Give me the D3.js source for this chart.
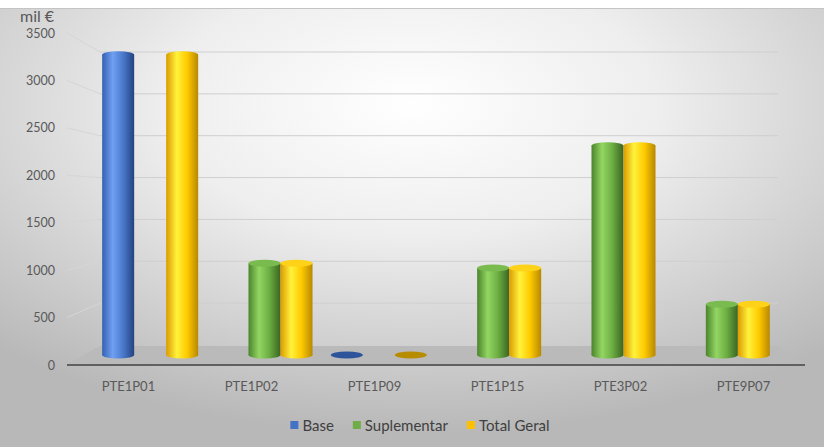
<!DOCTYPE html>
<html>
<head>
<meta charset="utf-8">
<script src="https://cdn.jsdelivr.net/npm/d3@7"></script>
<style>
  body { margin: 0; background: #fff; }
  text { font-family: Lato, "Open Sans", sans-serif; fill: #595959; }
</style>
</head>
<body>
<div id="chart"></div>
<script>
// data (mil €)
const categories = ["PTE1P01", "PTE1P02", "PTE1P09", "PTE1P15", "PTE3P02", "PTE9P07"];
const seriesNames = ["Base", "Suplementar", "Total Geral"];
const baseValues = [3400, null, 0, null, null, null];
const suplementarValues = [null, 1040, null, 985, 2370, 575];
const totalValues = [3400, 1040, 0, 985, 2370, 575];
const yTicks = [0, 500, 1000, 1500, 2000, 2500, 3000, 3500];

const width = 824, height = 447;
const svg = d3.select("#chart").append("svg").attr("width", width).attr("height", height);
const defs = svg.append("defs");

// background
const bg = defs.append("radialGradient").attr("id", "bg")
  .attr("cx", "50%").attr("cy", "22%").attr("r", "75%");
bg.append("stop").attr("offset", "0").attr("stop-color", "#ffffff");
bg.append("stop").attr("offset", "0.4").attr("stop-color", "#eeeeee");
bg.append("stop").attr("offset", "1").attr("stop-color", "#b8b8b8");
svg.append("rect").attr("x", 0).attr("y", 8).attr("width", width).attr("height", height - 8)
  .attr("fill", "url(#bg)");
svg.append("line").attr("x1", 0).attr("x2", width).attr("y1", 8.5).attr("y2", 8.5)
  .attr("stroke", "#c4c4c4");

// 3d-ish geometry: front edge, bar depth, back wall
const xFront = d3.scaleBand().domain(categories).range([67, 805]);
const xBack = d3.scaleBand().domain(categories).range([100, 778]);
const xBar = d3.scaleBand().domain(categories).range([93, 779]);
const slot = d3.scaleBand().domain(seriesNames).range([-48, 48]);
const yFront = d3.scaleLinear().domain([0, 3500]).range([365, 33]);
const yBack = d3.scaleLinear().domain([0, 3500]).range([345, 52]);
const yBar = d3.scaleLinear().domain([0, 3500]).range([355, 46]);

const backL = xBack.range()[0], backR = xBack.range()[1];
const frontL = xFront.range()[0], frontR = xFront.range()[1];

// gridlines on side wall + back wall
yTicks.forEach(t => {
  if (t === 0) return;
  svg.append("line")
    .attr("x1", frontL).attr("y1", yFront(t))
    .attr("x2", backL).attr("y2", yBack(t))
    .attr("stroke", "#d6d6d6");
  svg.append("line")
    .attr("x1", backL).attr("x2", backR)
    .attr("y1", yBack(t)).attr("y2", yBack(t))
    .attr("stroke", "#cfcfcf");
});

// floor
svg.append("path")
  .attr("d", d3.line()([[frontL, yFront(0) - 1], [backL, yBack(0) + 1], [backR, yBack(0) + 1], [frontR, yFront(0) - 1]]) + "Z")
  .attr("fill", "#bababa");
svg.append("line")
  .attr("x1", frontL).attr("x2", frontR)
  .attr("y1", yFront(0)).attr("y2", yFront(0))
  .attr("stroke", "#606060").attr("stroke-width", 2);

// y labels
svg.append("g").selectAll("text").data(yTicks).join("text")
  .attr("x", 55).attr("y", d => yFront(d))
  .attr("text-anchor", "end").attr("dominant-baseline", "central")
  .attr("font-size", 12.5)
  .text(d => d);

svg.append("text").attr("x", 20).attr("y", 22).attr("font-size", 16).text("mil €");

// category labels
svg.append("g").selectAll("text").data(categories).join("text")
  .attr("x", d => xFront(d) + xFront.bandwidth() / 2)
  .attr("y", 386)
  .attr("text-anchor", "middle").attr("dominant-baseline", "central")
  .attr("font-size", 13)
  .text(d => d);

// cylinder shading
const palette = {
  "Base": { stops: ["#3360b3", "#70a0f2", "#4a79cc", "#23437f"], face: "#4a78c8", flat: "#2e549c", legend: "#4472c4" },
  "Suplementar": { stops: ["#4b842b", "#93d663", "#6cae42", "#3a6522"], face: "#79bb4f", flat: "#4b7a2f", legend: "#70ad47" },
  "Total Geral": { stops: ["#dc9a00", "#fff23c", "#ffcb00", "#b88800"], face: "#ffd21a", flat: "#b88c00", legend: "#ffc000" }
};
seriesNames.forEach((s, i) => {
  const g = defs.append("linearGradient").attr("id", "cyl" + i)
    .attr("x1", "0").attr("x2", "1").attr("y1", "0").attr("y2", "0");
  [0, 0.33, 0.65, 1].forEach((o, k) => g.append("stop").attr("offset", o).attr("stop-color", palette[s].stops[k]));
});

const seriesValues = [baseValues, suplementarValues, totalValues];
const r = 16, ry = 3.5, horizon = 195;
const bars = [];
categories.forEach((c, ci) => {
  seriesNames.forEach((s, si) => {
    const v = seriesValues[si][ci];
    if (v === null) return;
    bars.push({ cat: c, series: s, si: si, value: v });
  });
});

const barG = svg.append("g");
bars.forEach(d => {
  const cx = xBar(d.cat) + xBar.bandwidth() / 2 + slot(d.series) + slot.bandwidth() / 2;
  const y0 = yBar(0), y1 = yBar(d.value);
  const g = barG.append("g");
  if (d.value <= 0) {
    g.append("ellipse").attr("cx", cx).attr("cy", y0).attr("rx", r).attr("ry", ry)
      .attr("fill", palette[d.series].flat);
    return;
  }
  g.append("ellipse").attr("cx", cx).attr("cy", y0).attr("rx", r).attr("ry", ry)
    .attr("fill", "url(#cyl" + d.si + ")");
  g.append("rect").attr("x", cx - r).attr("y", y1).attr("width", 2 * r).attr("height", y0 - y1)
    .attr("fill", "url(#cyl" + d.si + ")");
  if (y1 < horizon) {
    // seen from below: rounded top
    g.append("ellipse").attr("cx", cx).attr("cy", y1).attr("rx", r).attr("ry", ry)
      .attr("fill", "url(#cyl" + d.si + ")");
  } else {
    g.append("ellipse").attr("cx", cx).attr("cy", y1).attr("rx", r).attr("ry", ry)
      .attr("fill", palette[d.series].face);
  }
});

// legend
const legend = svg.append("g");
let lx = 0;
seriesNames.forEach(s => {
  const item = legend.append("g").attr("transform", `translate(${lx},0)`);
  item.append("rect").attr("x", 0).attr("y", -4).attr("width", 8).attr("height", 8)
    .attr("fill", palette[s].legend);
  const t = item.append("text").attr("x", 12).attr("y", 0)
    .attr("dominant-baseline", "central").attr("font-size", 15)
    .style("fill", "#404040").text(s);
  lx += 12 + t.node().getComputedTextLength() + 19;
});
const legendW = lx - 19;
legend.attr("transform", `translate(${420 - legendW / 2},425)`);
</script>
</body>
</html>
